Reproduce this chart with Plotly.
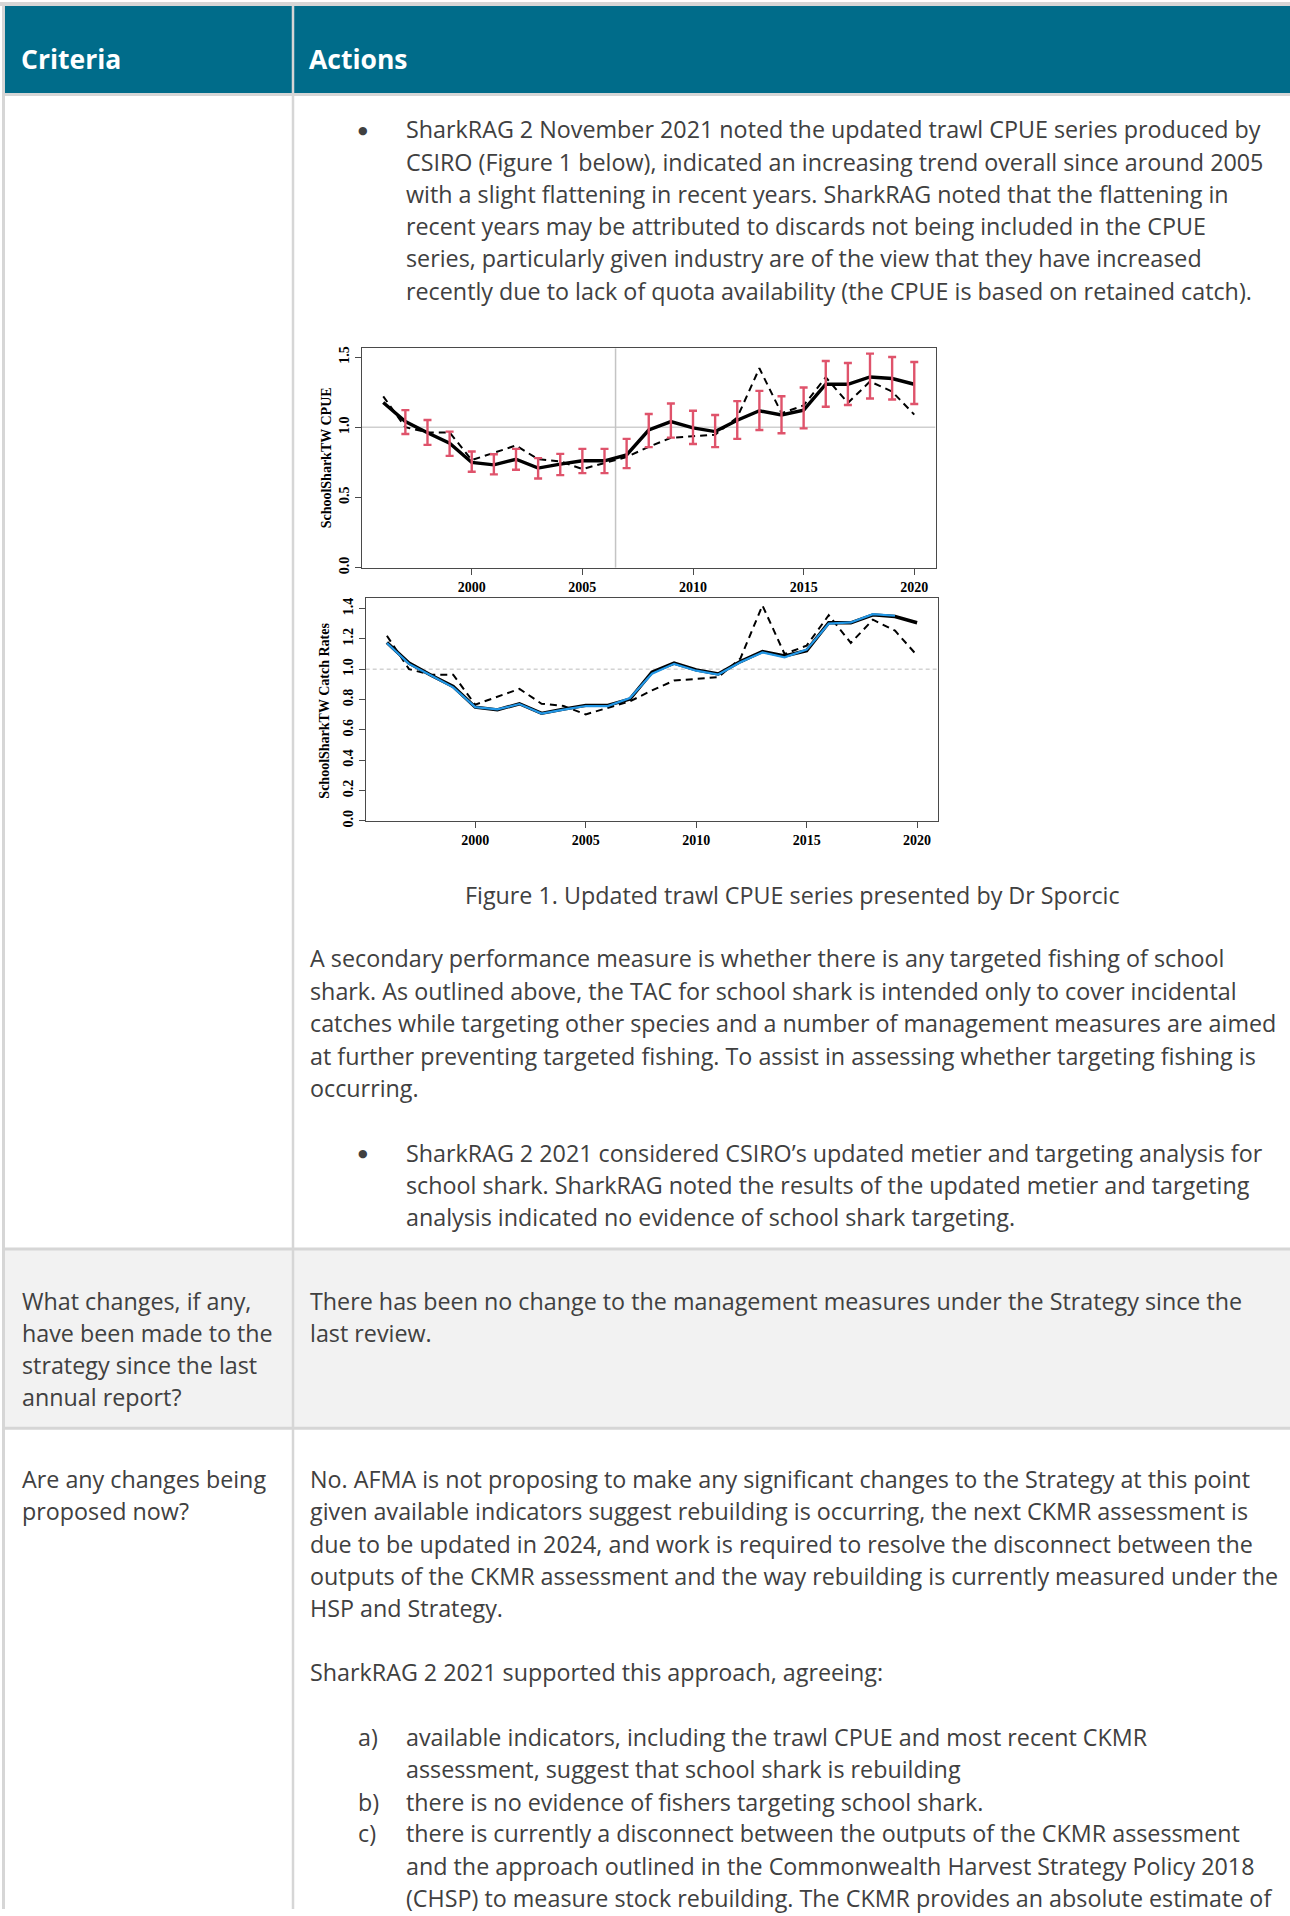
import plotly.graph_objects as go

# ---------------- data ----------------
years = [1996, 1997, 1998, 1999, 2000, 2001, 2002, 2003, 2004, 2005, 2006, 2007, 2008,
         2009, 2010, 2011, 2012, 2013, 2014, 2015, 2016, 2017, 2018, 2019, 2020]

# standardised trawl CPUE (solid black)
cpue_std = [1.176, 1.040, 0.960, 0.886, 0.749, 0.732, 0.772, 0.709, 0.737, 0.761, 0.761, 0.803,
            0.980, 1.040, 0.995, 0.969, 1.050, 1.117, 1.087, 1.122, 1.306, 1.306, 1.358, 1.347, 1.306]

# geometric mean / nominal catch rate (dashed)
cpue_geo = [1.220, 1.000, 0.963, 0.963, 0.766, 0.820, 0.870, 0.772, 0.757, 0.702, 0.744, 0.788,
            0.860, 0.925, 0.936, 0.947, 1.070, 1.420, 1.100, 1.155, 1.356, 1.173, 1.326, 1.254, 1.090]

# previous standardisation (blue, to 2019)
years_prev = [1996, 1997, 1998, 1999, 2000, 2001, 2002, 2003, 2004, 2005, 2006, 2007, 2008,
              2009, 2010, 2011, 2012, 2013, 2014, 2015, 2016, 2017, 2018, 2019]
cpue_prev = [1.173, 1.035, 0.958, 0.880, 0.750, 0.735, 0.770, 0.707, 0.733, 0.757, 0.757, 0.810,
             0.970, 1.035, 0.990, 0.965, 1.046, 1.110, 1.078, 1.129, 1.300, 1.308, 1.363, 1.352]

# confidence intervals for the standardised series
ci_years = [1997, 1998, 1999, 2000, 2001, 2002, 2003, 2004, 2005, 2006, 2007, 2008,
            2009, 2010, 2011, 2012, 2013, 2014, 2015, 2016, 2017, 2018, 2019, 2020]
ci_upper = [1.122, 1.051, 0.969, 0.827, 0.808, 0.846, 0.780, 0.810, 0.846, 0.846, 0.917, 1.094,
            1.169, 1.117, 1.087, 1.186, 1.259, 1.221, 1.283, 1.472, 1.458, 1.524, 1.500, 1.465]
ci_lower = [0.952, 0.874, 0.796, 0.683, 0.664, 0.697, 0.635, 0.659, 0.673, 0.673, 0.709, 0.858,
            0.926, 0.881, 0.858, 0.917, 0.980, 0.957, 0.992, 1.146, 1.158, 1.205, 1.198, 1.165]

x_ticks = [2000, 2005, 2010, 2015, 2020]
y1_ticks = [0.0, 0.5, 1.0, 1.5]
y1_ticktext = ["0.0", "0.5", "1.0", "1.5"]
y2_ticks = [0.0, 0.2, 0.4, 0.6, 0.8, 1.0, 1.2, 1.4]
y2_ticktext = ["0.0", "0.2", "0.4", "0.6", "0.8", "1.0", "1.2", "1.4"]
split_year = 2006.5

# ---------------- page geometry ----------------
W, H = 1290, 1916


def px(x):
    return x / W


def py(y):
    return 1 - y / H


TEAL = "#006C8A"
RULE = "#D6D6D6"
TXT = "#404040"
BODY = "'Open Sans', 'Noto Sans', sans-serif"
SERIF = "'Liberation Serif', 'Times New Roman', serif"
FS = 23.3
RED = "#DF536B"
BLUE = "#2297E6"

fig = go.Figure()

# ---------------- chart 1: CPUE with intervals ----------------
idx = {y: i for i, y in enumerate(years)}
ci_mid = [cpue_std[idx[y]] for y in ci_years]
fig.add_trace(go.Scatter(x=years, y=cpue_geo, mode="lines", xaxis="x", yaxis="y",
                         line=dict(color="black", width=2, dash="7px,5px"), showlegend=False))
fig.add_trace(go.Scatter(x=years, y=cpue_std, mode="lines", xaxis="x", yaxis="y",
                         line=dict(color="black", width=3.4), showlegend=False))
fig.add_trace(go.Scatter(
    x=ci_years, y=ci_mid, mode="markers", xaxis="x", yaxis="y",
    marker=dict(size=1, opacity=0),
    error_y=dict(type="data", symmetric=False,
                 array=[u - m for u, m in zip(ci_upper, ci_mid)],
                 arrayminus=[m - l for m, l in zip(ci_mid, ci_lower)],
                 color=RED, thickness=2.4, width=4),
    showlegend=False))

# ---------------- chart 2: catch rates ----------------
fig.add_trace(go.Scatter(x=years, y=cpue_geo, mode="lines", xaxis="x2", yaxis="y2",
                         line=dict(color="black", width=2, dash="7px,5px"), showlegend=False))
fig.add_trace(go.Scatter(x=years, y=cpue_std, mode="lines", xaxis="x2", yaxis="y2",
                         line=dict(color="black", width=3.4), showlegend=False))
fig.add_trace(go.Scatter(x=years_prev, y=cpue_prev, mode="lines", xaxis="x2", yaxis="y2",
                         line=dict(color=BLUE, width=2.2), showlegend=False))

axis_common = dict(showline=True, mirror=True, linecolor="#4a4a4a", linewidth=1.2,
                   ticks="outside", ticklen=6, tickcolor="#4a4a4a", tickwidth=1.2,
                   showgrid=False, zeroline=False,
                   tickfont=dict(family=SERIF, size=14, color="black", weight="bold"))

fig.update_layout(
    width=W, height=H,
    margin=dict(l=0, r=0, t=0, b=0),
    paper_bgcolor="white", plot_bgcolor="white",
    xaxis=dict(domain=[px(362), px(935.5)], range=[1995.04, 2020.96], anchor="y",
               tickvals=x_ticks, **axis_common),
    yaxis=dict(domain=[py(568.3), py(348)], range=[0, 1.5617], anchor="x",
               tickvals=y1_ticks, ticktext=y1_ticktext, tickangle=-90, **axis_common),
    xaxis2=dict(domain=[px(365.7), px(938.3)], range=[1995.04, 2020.96], anchor="y2",
                tickvals=x_ticks, **axis_common),
    yaxis2=dict(domain=[py(822.7), py(599)], range=[0, 1.468], anchor="x2",
                tickvals=y2_ticks, ticktext=y2_ticktext, tickangle=-90, **axis_common),
)

shapes = []
# reference lines in the charts
shapes.append(dict(type="line", xref="x", yref="y", x0=1995.04, x1=2020.96, y0=1.0, y1=1.0,
                   line=dict(color="#CFCFCF", width=1.5), layer="below"))
shapes.append(dict(type="line", xref="x", yref="y", x0=split_year, x1=split_year, y0=0, y1=1.5617,
                   line=dict(color="#C4C4C4", width=1.5), layer="below"))
shapes.append(dict(type="line", xref="x2", yref="y2", x0=1995.04, x1=2020.96, y0=1.0, y1=1.0,
                   line=dict(color="#BDBDBD", width=1, dash="4px,3px"), layer="below"))

# table: header band, shaded row, rules
shapes.append(dict(type="rect", xref="paper", yref="paper", x0=px(0), x1=px(W), y0=py(4), y1=py(0),
                   fillcolor=RULE, line=dict(width=0), layer="below"))
shapes.append(dict(type="rect", xref="paper", yref="paper", x0=px(5), x1=px(W), y0=py(92), y1=py(4),
                   fillcolor=TEAL, line=dict(width=0), layer="below"))
shapes.append(dict(type="rect", xref="paper", yref="paper", x0=px(5), x1=px(W), y0=py(1433), y1=py(1254),
                   fillcolor="#F2F2F2", line=dict(width=0), layer="below"))
for yy in (93, 1253, 1433):
    shapes.append(dict(type="line", xref="paper", yref="paper", x0=px(3), x1=px(W), y0=py(yy), y1=py(yy),
                       line=dict(color=RULE, width=3), layer="below"))
shapes.append(dict(type="line", xref="paper", yref="paper", x0=px(3.5), x1=px(3.5), y0=py(0), y1=py(H),
                   line=dict(color=RULE, width=3), layer="below"))
shapes.append(dict(type="line", xref="paper", yref="paper", x0=px(293), x1=px(293), y0=py(4), y1=py(H),
                   line=dict(color=RULE, width=2.5), layer="below"))
fig.update_layout(shapes=shapes)

ann = []


def text(x, y, s, size=FS, color=TXT, anchor="left", bold=False, family=BODY, angle=0):
    ann.append(dict(x=px(x), y=py(y), xref="paper", yref="paper", text=s, showarrow=False,
                    xanchor=anchor, yanchor="middle", textangle=angle,
                    font=dict(family=family, size=size, color=color, weight="bold" if bold else "normal")))


def bullet(x, y):
    ann.append(dict(x=px(x), y=py(y), xref="paper", yref="paper", text="●", showarrow=False,
                    xanchor="center", yanchor="middle",
                    font=dict(family="'DejaVu Sans', sans-serif", size=11, color=TXT)))


# header
text(19, 57, "Criteria", size=26.5, color="white", bold=True)
text(307, 57, "Actions", size=26.5, color="white", bold=True)

# first bullet
bullet(363, 129)
para1 = [
    "SharkRAG 2 November 2021 noted the updated trawl CPUE series produced by",
    "CSIRO (Figure 1 below), indicated an increasing trend overall since around 2005",
    "with a slight flattening in recent years. SharkRAG noted that the flattening in",
    "recent years may be attributed to discards not being included in the CPUE",
    "series, particularly given industry are of the view that they have increased",
    "recently due to lack of quota availability (the CPUE is based on retained catch).",
]
for i, s in enumerate(para1):
    text(404, 128 + i * 32.4, s)

# chart axis titles
text(326.5, 458, "SchoolSharkTW CPUE", size=14, color="black", anchor="center", bold=True,
     family=SERIF, angle=-90)
text(325, 712, "SchoolSharkTW Catch Rates", size=14, color="black", anchor="center", bold=True,
     family=SERIF, angle=-90)

# caption
text(792, 897, "Figure 1. Updated trawl CPUE series presented by Dr Sporcic", anchor="center")

para2 = [
    "A secondary performance measure is whether there is any targeted fishing of school",
    "shark. As outlined above, the TAC for school shark is intended only to cover incidental",
    "catches while targeting other species and a number of management measures are aimed",
    "at further preventing targeted fishing. To assist in assessing whether targeting fishing is",
    "occurring.",
]
for i, s in enumerate(para2):
    text(308, 961 + i * 32.5, s)

bullet(363, 1157)
para3 = [
    "SharkRAG 2 2021 considered CSIRO’s updated metier and targeting analysis for",
    "school shark. SharkRAG noted the results of the updated metier and targeting",
    "analysis indicated no evidence of school shark targeting.",
]
for i, s in enumerate(para3):
    text(404, 1156 + i * 32.4, s)

# row 2
row2_left = ["What changes, if any,", "have been made to the", "strategy since the last", "annual report?"]
for i, s in enumerate(row2_left):
    text(20, 1305 + i * 32.2, s)
text(308, 1305, "There has been no change to the management measures under the Strategy since the")
text(308, 1337, "last review.")

# row 3
text(20, 1484, "Are any changes being")
text(20, 1516, "proposed now?")
para4 = [
    "No. AFMA is not proposing to make any significant changes to the Strategy at this point",
    "given available indicators suggest rebuilding is occurring, the next CKMR assessment is",
    "due to be updated in 2024, and work is required to resolve the disconnect between the",
    "outputs of the CKMR assessment and the way rebuilding is currently measured under the",
    "HSP and Strategy.",
]
for i, s in enumerate(para4):
    text(308, 1484 + i * 32.5, s)
text(308, 1678, "SharkRAG 2 2021 supported this approach, agreeing:")

items = [
    ("a)", 1743, ["available indicators, including the trawl CPUE and most recent CKMR",
                  "assessment, suggest that school shark is rebuilding"]),
    ("b)", 1808, ["there is no evidence of fishers targeting school shark."]),
    ("c)", 1840, ["there is currently a disconnect between the outputs of the CKMR assessment",
                  "and the approach outlined in the Commonwealth Harvest Strategy Policy 2018",
                  "(CHSP) to measure stock rebuilding. The CKMR provides an absolute estimate of"]),
]
for label, y0, lines in items:
    text(356, y0, label)
    for i, s in enumerate(lines):
        text(404, y0 + i * 32.3, s)

fig.update_layout(annotations=ann)
fig.write_html("out.html")
